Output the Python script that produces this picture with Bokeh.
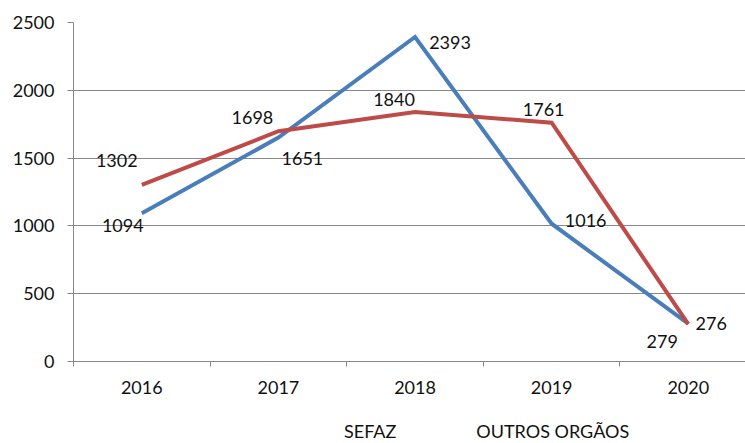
from bokeh.plotting import figure
from bokeh.models import ColumnDataSource, Range1d, FixedTicker, Legend, LegendItem
from bokeh.layouts import column
from bokeh.core.properties import value
from bokeh.embed import file_html
from bokeh.resources import INLINE

# ---- data ----
years = ["2016", "2017", "2018", "2019", "2020"]
sefaz = [1094, 1651, 2393, 1016, 279]
outros = [1302, 1698, 1840, 1761, 276]
y_ticks = [0, 500, 1000, 1500, 2000, 2500]
series_names = ["SEFAZ", "OUTROS ORGÃOS"]

# label offsets (screen px) relative to each point
sefaz_dx = [-19, 24, 35, 34, -26]
sefaz_dy = [12, 21, 5, -3, 18]
outros_dx = [-25, -26, -21, -8, 23]
outros_dy = [-24, -14, -12, -13, -1]

BLUE = "#4A7EBB"
RED = "#BE4B48"
GRID = "#878787"
FONT = "Lato"
FS = "18px"

xs = list(range(len(years)))

p = figure(width=745, height=407, output_backend="svg", toolbar_location=None,
           x_range=Range1d(-0.5, 4.419), y_range=Range1d(0, 2500),
           min_border_left=73, min_border_right=0, min_border_top=22,
           min_border_bottom=46)
p.outline_line_color = None
p.background_fill_color = "white"
p.border_fill_color = "white"

src_s = ColumnDataSource(dict(x=xs, y=sefaz, t=[str(v) for v in sefaz], dx=sefaz_dx, dy=sefaz_dy))
src_o = ColumnDataSource(dict(x=xs, y=outros, t=[str(v) for v in outros], dx=outros_dx, dy=outros_dy))

p.line("x", "y", source=src_s, line_color=BLUE, line_width=4, line_join="miter")
p.line("x", "y", source=src_o, line_color=RED, line_width=4, line_join="miter")

for src in (src_s, src_o):
    p.text("x", "y", text="t", source=src, x_offset="dx", y_offset="dy",
           text_font=value(FONT), text_font_size=FS, text_color="#111111",
           text_align="center", text_baseline="middle")

# axes
p.xaxis.ticker = FixedTicker(ticks=xs, minor_ticks=[-0.5, 0.5, 1.5, 2.5, 3.5])
p.xaxis.major_label_overrides = {i: y for i, y in enumerate(years)}
p.xaxis.major_tick_out = 0
p.xaxis.major_tick_in = 0
p.xaxis.minor_tick_out = 5
p.xaxis.minor_tick_in = 0
p.xaxis.minor_tick_line_color = GRID
p.xaxis.major_label_standoff = 14

p.yaxis.ticker = FixedTicker(ticks=y_ticks)
p.yaxis.major_tick_out = 6
p.yaxis.major_tick_in = 0
p.yaxis.minor_tick_line_color = None
p.yaxis.major_label_standoff = 13

for ax in (p.xaxis, p.yaxis):
    ax.axis_line_color = GRID
    ax.axis_line_width = 1
    ax.major_tick_line_color = GRID
    ax.major_label_text_font = FONT
    ax.major_label_text_font_size = FS
    ax.major_label_text_color = "#111111"

p.xgrid.grid_line_color = None
p.ygrid.ticker = FixedTicker(ticks=y_ticks)
p.ygrid.grid_line_color = GRID
p.ygrid.grid_line_width = 1

# ---- legend strip (separate small figure below the chart) ----
lg = figure(width=745, height=36, output_backend="svg", toolbar_location=None,
            x_axis_type=None, y_axis_type=None,
            x_range=Range1d(0, 1), y_range=Range1d(0, 1),
            min_border=0)
lg.outline_line_color = None
lg.background_fill_color = "white"
lg.border_fill_color = "white"
lg.grid.visible = False
k_s = lg.line(x=[], y=[], line_color=BLUE, line_width=4)
k_o = lg.line(x=[], y=[], line_color=RED, line_width=4)

legend = Legend(items=[LegendItem(label=series_names[0], renderers=[k_s]),
                       LegendItem(label=series_names[1], renderers=[k_o])],
                orientation="horizontal", location=(218, 1),
                padding=0, margin=0, spacing=27, glyph_width=46, glyph_height=16,
                label_height=16, label_standoff=7,
                label_text_font=FONT, label_text_font_size=FS,
                label_text_color="#111111", label_text_baseline="middle",
                border_line_color=None, background_fill_alpha=0)
lg.add_layout(legend, "center")

layout = column(p, lg, spacing=0)
open("out.html", "w").write(file_html(layout, INLINE))
